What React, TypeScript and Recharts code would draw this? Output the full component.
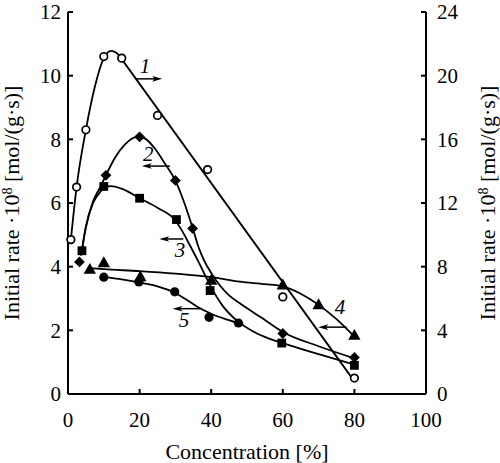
import { ComposedChart, Line, Scatter, XAxis, YAxis, ReferenceLine } from 'recharts';

const FONT = '"Liberation Serif", "Times New Roman", serif';
const INK = '#000';

// ticks
const xTicks = [0, 20, 40, 60, 80, 100];
const leftTicks = [0, 2, 4, 6, 8, 10, 12];
const rightTicks = [0, 4, 8, 12, 16, 20, 24];

// measured points [concentration %, rate]; set 1 is read on the right axis
const pts1: [number, number][] = [[0.8, 9.7], [2.4, 13.0], [5, 16.6], [10, 21.2], [15, 21.1], [25, 17.5], [39, 14.1], [60, 6.1], [80, 1.0]];
const pts2: [number, number][] = [[3.2, 4.15], [10.6, 6.87], [20, 8.08], [30, 6.71], [34.8, 5.2], [60, 1.9], [80, 1.15]];
const pts3: [number, number][] = [[3.9, 4.5], [10, 6.52], [20, 6.15], [30.3, 5.48], [39.7, 3.25], [59.7, 1.6], [80, 0.9]];
const pts4: [number, number][] = [[6.1, 3.92], [10, 4.13], [20.2, 3.69], [40, 3.58], [60, 3.43], [70, 2.81], [80, 1.85]];
const pts5: [number, number][] = [[10, 3.67], [19.8, 3.52], [29.8, 3.21], [39.4, 2.41], [47.6, 2.23]];

// hand-drawn fit curves as they appear in the figure
const fit1Rise: [number, number][] = [[0.8, 9.7], [2.4, 13.0], [5, 16.6], [7.5, 19.3], [10, 21.1], [12, 21.56], [13.5, 21.44], [15, 21.04]];
const fit1Fall: [number, number][] = [[15, 21.04], [79.5, 0.95]];
const fit2: [number, number][] = [[3.6, 4.35], [5, 5.25], [7, 6.05], [9, 6.5], [10.5, 6.85], [13, 7.4], [16, 7.85], [19, 8.07], [21, 8.05], [24, 7.75], [27, 7.25], [30, 6.7], [32.5, 6.0], [35, 5.15], [36.5, 4.6], [38, 4.2], [40, 3.8], [42.5, 3.4], [45, 3.1], [48, 2.85], [54, 2.4], [60, 1.95], [70, 1.5], [80, 1.12]];
const fit3: [number, number][] = [[3.9, 4.5], [5, 5.25], [7, 6.0], [9, 6.35], [10.5, 6.5], [12, 6.53], [15, 6.45], [20, 6.15], [25, 5.85], [30, 5.45], [32, 5.1], [34, 4.68], [36, 4.25], [38, 3.8], [40, 3.35], [43, 2.8], [47, 2.32], [52, 1.95], [56, 1.75], [60, 1.6], [70, 1.25], [80, 0.92]];
const fit4: [number, number][] = [[6.3, 3.95], [10, 3.92], [20, 3.86], [30, 3.78], [40, 3.67], [48, 3.53], [55, 3.45], [60, 3.38], [65, 3.15], [70, 2.8], [75, 2.35], [80, 1.8]];
const fit5: [number, number][] = [[10, 3.68], [15, 3.6], [20, 3.5], [25, 3.38], [30, 3.17], [33, 2.97], [36, 2.75], [40, 2.52], [44, 2.35], [49, 2.18]];

// curve numbers and the arrows that point to their axis (left-axis units)
const curveTags = [
  { x: 21.5, y: 10.07, text: '1' },
  { x: 22.4, y: 7.31, text: '2' },
  { x: 31.3, y: 4.29, text: '3' },
  { x: 76.0, y: 2.52, text: '4' },
  { x: 32.4, y: 2.1, text: '5' },
];
const arrows: { from: [number, number]; to: [number, number] }[] = [
  { from: [19.0, 9.9], to: [26.3, 9.9] },
  { from: [28.5, 7.16], to: [20.6, 7.16] },
  { from: [32.2, 4.87], to: [25.5, 4.87] },
  { from: [77.8, 2.1], to: [69.9, 2.1] },
  { from: [36.9, 2.68], to: [29.2, 2.68] },
];

const toXY = (rows: [number, number][]) => rows.map(([x, y]) => ({ x, y }));

const OpenCircle = ({ cx, cy }: any) => <circle cx={cx} cy={cy} r={3.8} fill="#fff" stroke={INK} strokeWidth={1.7} />;
const Diamond = ({ cx, cy }: any) => (
  <polygon points={`${cx},${cy - 5.4} ${cx + 5.4},${cy} ${cx},${cy + 5.4} ${cx - 5.4},${cy}`} fill={INK} />
);
const Square = ({ cx, cy }: any) => <rect x={cx - 4.4} y={cy - 4.4} width={8.8} height={8.8} fill={INK} />;
const Triangle = ({ cx, cy }: any) => (
  <polygon points={`${cx},${cy - 6.2} ${cx + 6.2},${cy + 4.6} ${cx - 6.2},${cy + 4.6}`} fill={INK} />
);
const Dot = ({ cx, cy }: any) => <circle cx={cx} cy={cy} r={4.6} fill={INK} />;

const Tag = ({ cx, cy, payload }: any) => (
  <text x={cx} y={cy} textAnchor="middle" fontFamily={FONT} fontStyle="italic" fontSize={21} fill={INK}>
    {payload.text}
  </text>
);

const Arrow = ({ x1, y1, x2, y2 }: any) => {
  const dir = Math.sign(x2 - x1) || 1;
  return (
    <g>
      <line x1={x1} y1={y1} x2={x2 - dir * 5} y2={y2} stroke={INK} strokeWidth={1.5} />
      <polygon points={`${x2},${y2} ${x2 - dir * 10},${y2 - 2.8} ${x2 - dir * 7.5},${y2} ${x2 - dir * 10},${y2 + 2.8}`} fill={INK} />
    </g>
  );
};

const RateTitle = ({ viewBox, shift }: any) => {
  const cx = viewBox.x + shift;
  const cy = viewBox.y + viewBox.height / 2;
  return (
    <text x={cx} y={cy} transform={`rotate(-90 ${cx} ${cy})`} textAnchor="middle" fontFamily={FONT} fontSize={22} fill={INK}>
      Initial rate ·10<tspan fontSize={14} dy={-7}>8</tspan>
      <tspan dy={7}> [mol/(g·s)]</tspan>
    </text>
  );
};

const tickStyle = { fill: INK, fontSize: 21, fontFamily: FONT };
const axisStroke = { stroke: INK, strokeWidth: 2 };
const curve = { stroke: INK, strokeWidth: 1.8, dot: false, activeDot: false, isAnimationActive: false } as const;

export default function App() {
  return (
    <div style={{ position: 'absolute', left: 0, top: 0, background: '#fff' }}>
      <ComposedChart width={500} height={463} margin={{ top: 12, right: 0, bottom: 0, left: 0 }}>
        <XAxis
          dataKey="x"
          type="number"
          domain={[0, 100]}
          ticks={xTicks}
          interval={0}
          height={69}
          tickSize={-5}
          tickMargin={23}
          tick={tickStyle}
          axisLine={axisStroke}
          tickLine={axisStroke}
          label={{ value: 'Concentration [%]', position: 'insideBottom', offset: 4, fontSize: 22, fontFamily: FONT, fill: INK }}
        />
        <YAxis
          yAxisId="left"
          dataKey="y"
          type="number"
          domain={[0, 12]}
          ticks={leftTicks}
          interval={0}
          width={68}
          tickSize={-5}
          tickMargin={12}
          tick={tickStyle}
          axisLine={axisStroke}
          tickLine={axisStroke}
          label={<RateTitle shift={19} />}
        />
        <YAxis
          yAxisId="right"
          orientation="right"
          dataKey="y"
          type="number"
          domain={[0, 24]}
          ticks={rightTicks}
          interval={0}
          width={74}
          tickSize={-5}
          tickMargin={16}
          tick={tickStyle}
          axisLine={axisStroke}
          tickLine={axisStroke}
          label={<RateTitle shift={69} />}
        />

        <Line yAxisId="right" data={toXY(fit1Rise)} dataKey="y" type="monotone" {...curve} />
        <Line yAxisId="right" data={toXY(fit1Fall)} dataKey="y" type="linear" {...curve} />
        <Line yAxisId="left" data={toXY(fit2)} dataKey="y" type="monotone" {...curve} />
        <Line yAxisId="left" data={toXY(fit3)} dataKey="y" type="monotone" {...curve} />
        <Line yAxisId="left" data={toXY(fit4)} dataKey="y" type="monotone" {...curve} />
        <Line yAxisId="left" data={toXY(fit5)} dataKey="y" type="monotone" {...curve} />

        <Scatter yAxisId="right" data={toXY(pts1)} shape={OpenCircle} isAnimationActive={false} />
        <Scatter yAxisId="left" data={toXY(pts2)} shape={Diamond} isAnimationActive={false} />
        <Scatter yAxisId="left" data={toXY(pts3)} shape={Square} isAnimationActive={false} />
        <Scatter yAxisId="left" data={toXY(pts4)} shape={Triangle} isAnimationActive={false} />
        <Scatter yAxisId="left" data={toXY(pts5)} shape={Dot} isAnimationActive={false} />

        {arrows.map((a, i) => (
          <ReferenceLine
            key={i}
            yAxisId="left"
            segment={[{ x: a.from[0], y: a.from[1] }, { x: a.to[0], y: a.to[1] }]}
            shape={Arrow}
          />
        ))}
        <Scatter yAxisId="left" data={curveTags} shape={Tag} isAnimationActive={false} />
      </ComposedChart>
    </div>
  );
}
